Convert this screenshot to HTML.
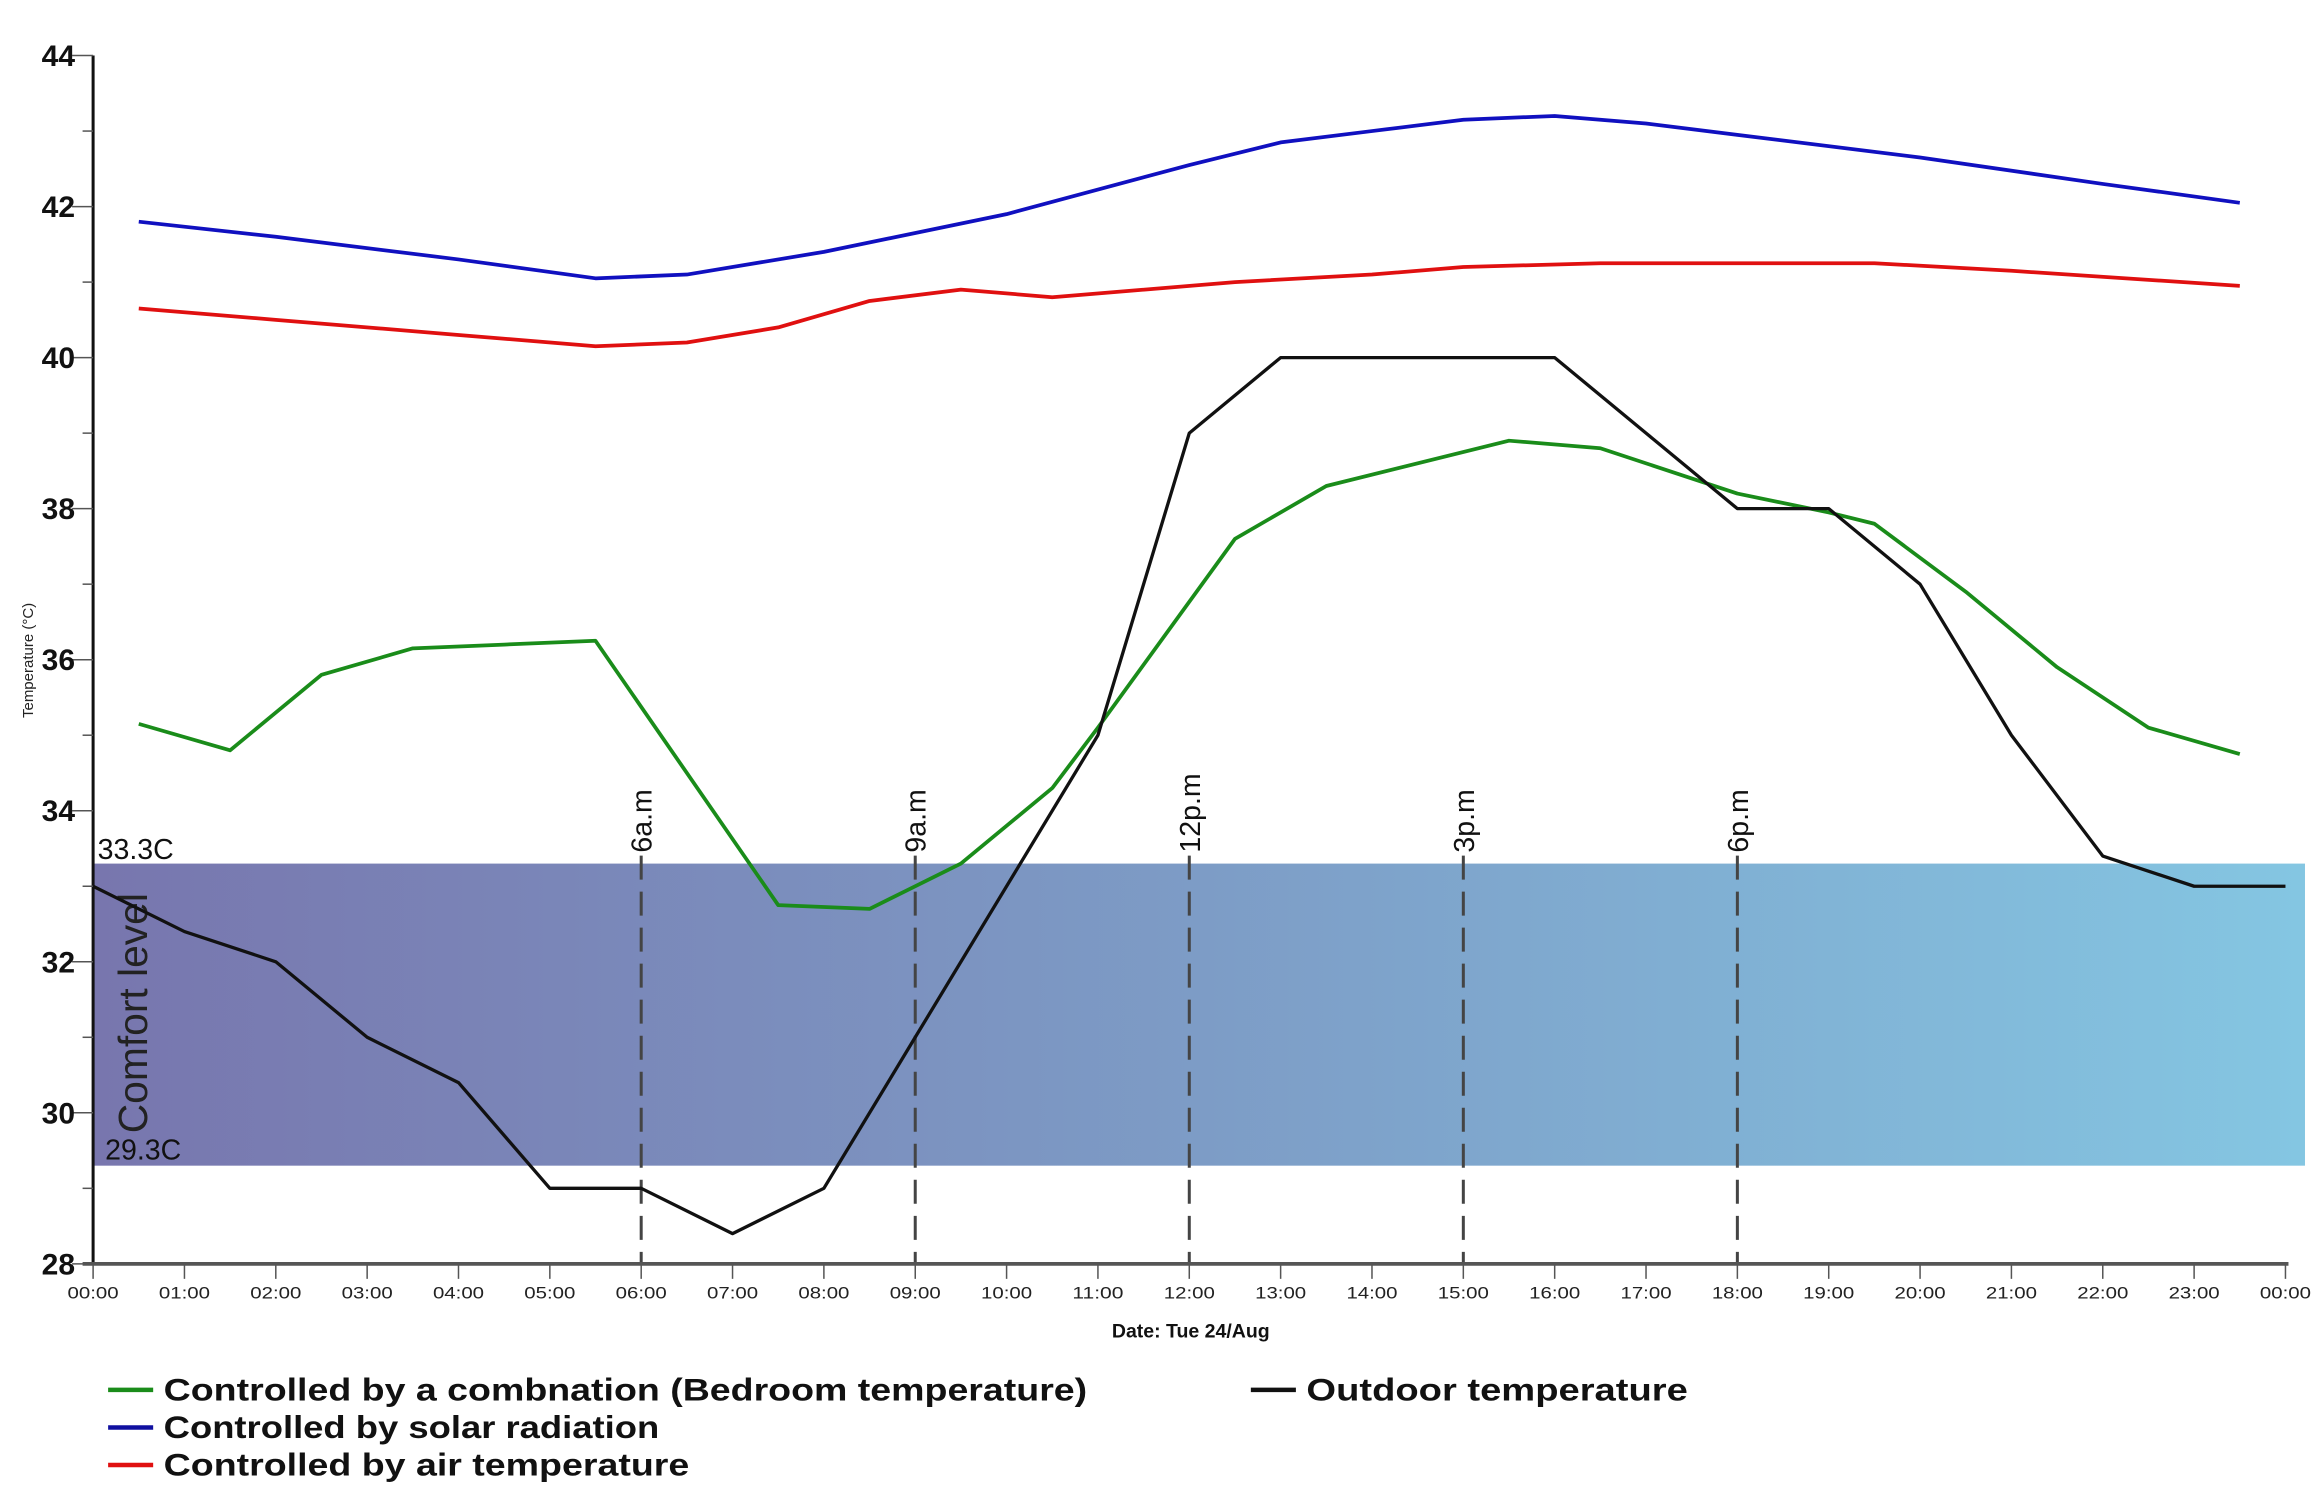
<!DOCTYPE html>
<html><head><meta charset="utf-8"><style>
html,body{margin:0;padding:0;background:#fff;}
svg{display:block;font-family:"Liberation Sans",sans-serif;}
</style></head><body>
<svg id="chart" width="2320" height="1495" viewBox="0 0 1545 996" preserveAspectRatio="none" xmlns="http://www.w3.org/2000/svg">
<defs>
<linearGradient id="band" x1="0" x2="1" y1="0" y2="0">
<stop offset="0" stop-color="#7876ae"/><stop offset="0.5" stop-color="#7d9cc6"/><stop offset="1" stop-color="#84c6e2"/>
</linearGradient>
</defs>
<g id="g"></g>
</svg>
<script>
const yTicks=[28,30,32,34,36,38,40,42,44];
const xTickLabels=["00:00","01:00","02:00","03:00","04:00","05:00","06:00","07:00","08:00","09:00","10:00","11:00","12:00","13:00","14:00","15:00","16:00","17:00","18:00","19:00","20:00","21:00","22:00","23:00","00:00"];
const greenHours=[0.5,1.5,2.5,3.5,4.5,5.5,7.5,8.5,9.5,10.5,11,12.5,13.5,15.5,16.5,18,19,19.5,20.5,21.5,22.5,23.5];
const greenValues=[35.15,34.8,35.8,36.15,36.2,36.25,32.75,32.7,33.3,34.3,35.1,37.6,38.3,38.9,38.8,38.2,37.95,37.8,36.9,35.9,35.1,34.75];
const outdoorHours=[0,1,2,3,4,5,6,7,8,9,10,11,12,13,14,15,16,17,18,19,20,21,22,23,24];
const outdoorValues=[33,32.4,32,31,30.4,29,29,28.4,29,31,33,35,39,40,40,40,40,39,38,38,37,35,33.4,33,33];
const solarHours=[0.5,2,4,5.5,6.5,8,10,12,13,14,15,16,17,18,20,22,23.5];
const solarValues=[41.8,41.6,41.3,41.05,41.1,41.4,41.9,42.55,42.85,43.0,43.15,43.2,43.1,42.95,42.65,42.3,42.05];
const airHours=[0.5,2,4,5.5,6.5,7.5,8.5,9.5,10.5,12.5,14,15,16.5,18,19.5,21,23.5];
const airValues=[40.65,40.5,40.3,40.15,40.2,40.4,40.75,40.9,40.8,41.0,41.1,41.2,41.25,41.25,41.25,41.15,40.95];
const comfortBand=[29.3,33.3];
const markerHours=[6,9,12,15,18];
const markerLabels=["6a.m","9a.m","12p.m","3p.m","6p.m"];

const X=h=>62+h*(1522-62)/24;
const Y=v=>842-(v-28)*(842-37)/16;
const NS="http://www.w3.org/2000/svg";
const g=document.getElementById('g');
function mk(tag,attrs,txt){const e=document.createElementNS(NS,tag);for(const k in attrs)e.setAttribute(k,attrs[k]);if(txt!==undefined)e.textContent=txt;g.appendChild(e);return e;}

let e=mk('rect',{x:62,y:Y(comfortBand[1]),width:1535-62,height:Y(comfortBand[0])-Y(comfortBand[1]),fill:'url(#band)'});


e=mk('text',{x:65,y:Y(comfortBand[1])-3,'font-size':19,fill:'#111'},'33.3C');


e=mk('text',{x:70,y:Y(comfortBand[0])-4,'font-size':19,fill:'#111'},'29.3C');


e=mk('text',{x:0,y:0,'font-size':27,fill:'#222',transform:'translate(98,755) rotate(-90)',textLength:160,lengthAdjust:'spacingAndGlyphs'},'Comfort level');



markerHours.forEach((h,i)=>{
 let l=mk('line',{x1:X(h),x2:X(h),y1:570,y2:842,stroke:'#444','stroke-width':2,'stroke-dasharray':'16,8'});
 
 
 let t=mk('text',{x:0,y:0,'font-size':19,fill:'#111',transform:`translate(${X(h)+7},568) rotate(-90)`},markerLabels[i]);
 
 
});

e=mk('line',{x1:62,x2:62,y1:37,y2:843,stroke:'#111','stroke-width':2});


e=mk('line',{x1:55,x2:1524,y1:842,y2:842,stroke:'#555','stroke-width':2.5});


for(let v=28;v<=44;v++){
 let t=mk('line',{x1:v%2?55:48,x2:62,y1:Y(v),y2:Y(v),stroke:'#555','stroke-width':1});
 
 
}
yTicks.forEach(v=>{
 let t=mk('text',{x:50,y:Y(v)+7,'font-size':20,'font-weight':'bold','text-anchor':'end',fill:'#111'},v);
 
 
});
xTickLabels.forEach((s,i)=>{
 let l=mk('line',{x1:X(i),x2:X(i),y1:842,y2:852,stroke:'#555','stroke-width':1});
 
 
 let t=mk('text',{x:X(i),y:865,'font-size':11,'text-anchor':'middle',fill:'#222',textLength:34,lengthAdjust:'spacingAndGlyphs'},s);
 
 
});
e=mk('text',{x:793,y:891,'font-size':13,'font-weight':'bold','text-anchor':'middle',fill:'#111'},'Date: Tue 24/Aug');


e=mk('text',{x:0,y:0,'font-size':10,'text-anchor':'middle',fill:'#222',transform:'translate(22,440) rotate(-90)'},'Temperature (°C)');



function series(hs,vs,color,w,name){
 const p=mk('polyline',{points:hs.map((h,i)=>X(h)+','+Y(vs[i])).join(' '),fill:'none',stroke:color,'stroke-width':w,'stroke-linejoin':'round'});
 
 
}
series(solarHours,solarValues,'#1010c0',2.5,'solar-radiation-line');
series(airHours,airValues,'#e01010',2.5,'air-temperature-line');
series(greenHours,greenValues,'#1a8c1a',2.5,'bedroom-temperature-line');
series(outdoorHours,outdoorValues,'#111',2.2,'outdoor-temperature-line');

const legend=[[72,926,'#1a8c1a','Controlled by a combnation (Bedroom temperature)',615],[72,951,'#1010a0','Controlled by solar radiation',330],[72,976,'#e01010','Controlled by air temperature',350],[833,926,'#111','Outdoor temperature',254]];
legend.forEach(([x,y,c,s,len])=>{
 let l=mk('line',{x1:x,x2:x+30,y1:y,y2:y,stroke:c,'stroke-width':3});
 
 
 let t=mk('text',{x:x+37,y:y+7,'font-size':21,'font-weight':'bold',fill:'#111',textLength:len,lengthAdjust:'spacingAndGlyphs'},s);
 
 
});
</script>
</body></html>
